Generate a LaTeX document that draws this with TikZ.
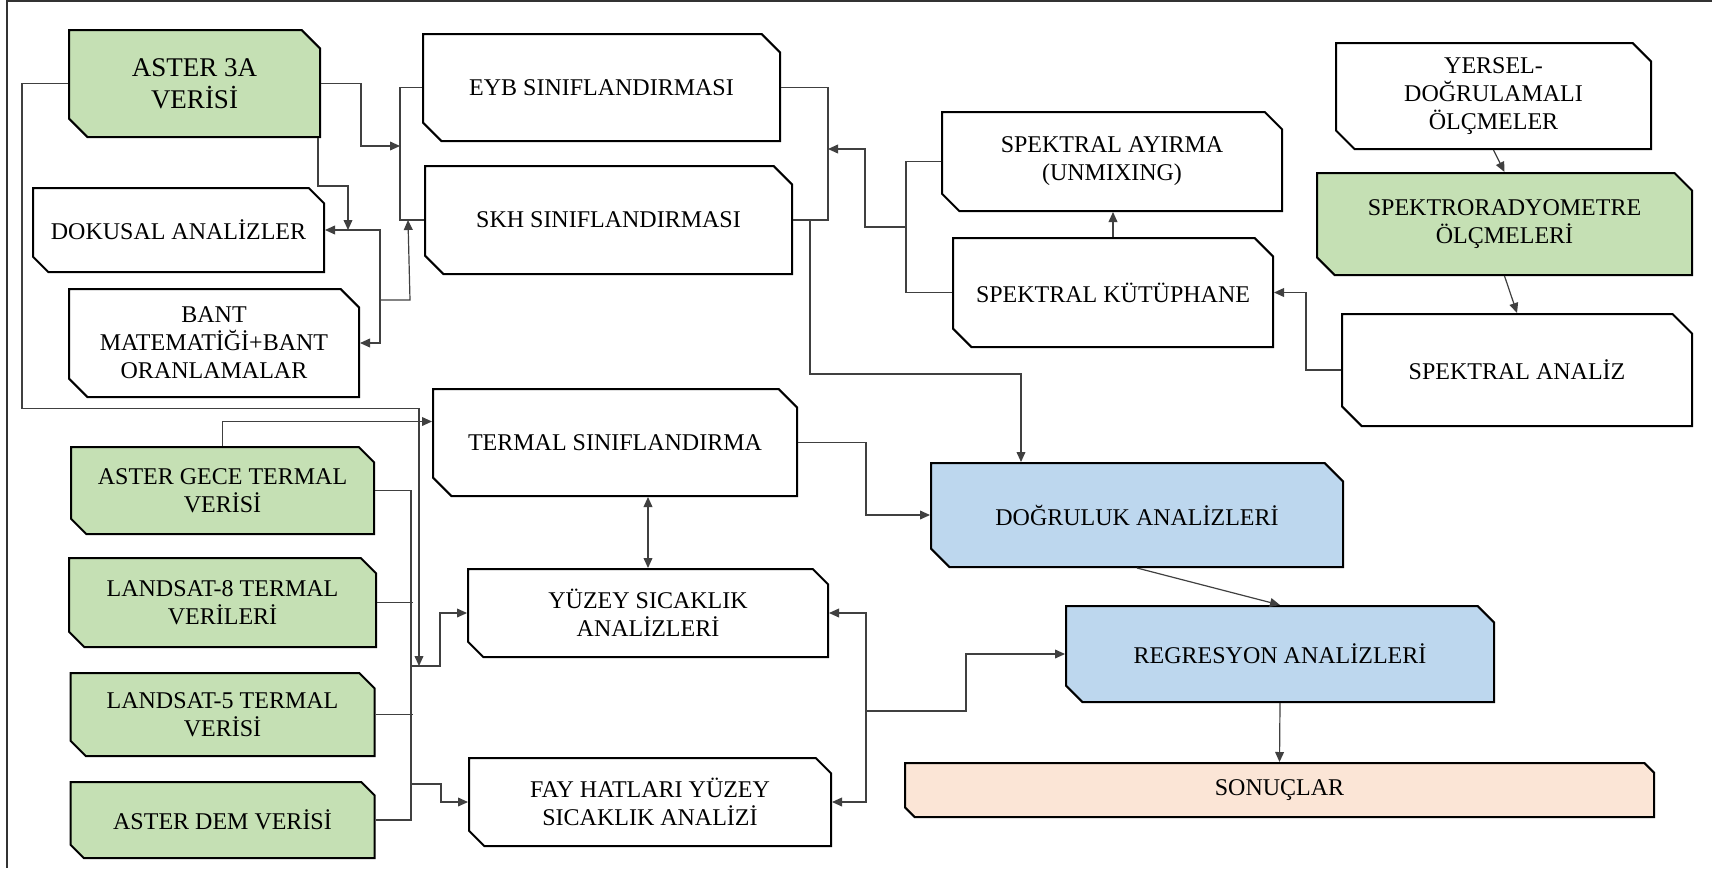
\documentclass[tikz,border=0pt]{standalone}
\usepackage{fontspec}
\setmainfont{Liberation Serif}
\usetikzlibrary{positioning,arrows.meta,shapes.misc,calc}

\definecolor{datagreen}{HTML}{C5E0B4}
\definecolor{resblue}{HTML}{BDD7EE}
\definecolor{outpeach}{HTML}{FBE5D6}

\begin{document}
\begin{tikzpicture}[
    x=0.5pt, y=-0.5pt,
    font=\fontsize{12}{14}\selectfont,
    >={Triangle[length=5pt,width=4.4pt]},
    box/.style={
        chamfered rectangle,
        chamfered rectangle corners={north east,south west},
        chamfered rectangle sep=4.6pt,
        draw=black,
        fill=white,
        line width=1pt,
        align=center,
        inner sep=2pt
    },
    databox/.style={box, fill=datagreen},
    resbox/.style={box, fill=resblue},
    outbox/.style={box, fill=outpeach},
    dims/.style 2 args={minimum width=#1*0.5pt, minimum height=#2*0.5pt},
    snip/.style={chamfered rectangle sep=#1},
    conn/.style={draw=black!75, line width=0.6pt}
]
\useasboundingbox (0,0) rectangle (1712,868);

% Page frame
\draw[black!80, line width=0.6pt] (1712,1) -- (7,1) -- (7,868);

% ASTER 3A branch
\node[databox, dims={251}{107}, font=\fontsize{13.5}{16}\selectfont] (aster3a) at (194.5,83.5) {ASTER 3A\\VERİSİ};
\node[box, dims={291}{84}, snip=3.8pt] (dokusal) at (178.5,230) {DOKUSAL ANALİZLER};
\node[box, dims={290}{108}] (bant) at (214,343) {BANT\\MATEMATİĞİ+BANT\\ORANLAMALAR};

% Classifications
\node[box, dims={357}{107}] (eyb) at (601.5,87.5) {EYB SINIFLANDIRMASI};
\node[box, dims={367}{108}] (skh) at (608.5,220) {SKH SINIFLANDIRMASI};
\node[box, dims={364}{107}] (termal) at (615,442.5) {TERMAL SINIFLANDIRMA};
\node[box, dims={360}{88}, snip=3.8pt] (yuzey) at (648,613) {YÜZEY SICAKLIK\\ANALİZLERİ};
\node[box, dims={362}{88}, snip=3.8pt] (fay) at (650,802) {FAY HATLARI YÜZEY\\SICAKLIK ANALİZİ};

% Thermal data
\node[databox, dims={303}{87}, snip=3.8pt] (gece) at (222.5,490.5) {ASTER GECE TERMAL\\VERİSİ};
\node[databox, dims={307}{89}, snip=3.8pt, below=11pt of gece] (ls8) {LANDSAT-8 TERMAL\\VERİLERİ};
\node[databox, dims={304}{83}, snip=3.8pt, below=12pt of ls8] (ls5) {LANDSAT-5 TERMAL\\VERİSİ};
\node[databox, dims={304}{76}, snip=3.3pt, below=12pt of ls5] (dem) {ASTER DEM VERİSİ};

% Spectral branch
\node[box, dims={340}{99}, snip=4.3pt] (ayirma) at (1112,161.5) {SPEKTRAL AYIRMA\\(UNMIXING)};
\node[box, dims={320}{109}] (kutup) at (1113,292.5) {SPEKTRAL KÜTÜPHANE};
\node[box, dims={315}{106}] (yersel) at (1493.5,96) {YERSEL-\\DOĞRULAMALI\\ÖLÇMELER};
\node[databox, dims={375}{102}, snip=4.4pt] (spektro) at (1504.5,224) {SPEKTRORADYOMETRE\\ÖLÇMELERİ};
\node[box, dims={350}{112}, snip=4.9pt] (spanaliz) at (1517,370) {SPEKTRAL ANALİZ};

% Results
\node[resbox, dims={412}{104}] (dogruluk) at (1137,515) {DOĞRULUK ANALİZLERİ};
\node[resbox, dims={428}{96}, snip=4.1pt] (regresyon) at (1280,654) {REGRESYON ANALİZLERİ};
\node[outbox, dims={749}{54}, snip=2.4pt] (sonuclar) at (1279.5,790) {SONUÇLAR};

\coordinate (tjoin) at ($(gece.east)+(44,175.5)$);

% Connections: left part
\draw[conn, ->] (aster3a.west) -- ++(-46,0) -- ++(0,325) -| (tjoin);
\draw[conn, ->] (aster3a.east) -- ++(40,0) |- ($(eyb.west)+(-22,58.5)$);
\draw[conn, ->] ($(aster3a.south)+(123.5,0)$) -- ++(0,48) -| ($(dokusal.east)+(23,0)$);
\draw[conn] (eyb.west) -- ++(-22,0) |- (skh.west);
\draw[conn, <->] (dokusal.east) -- ++(55,0) |- (bant.east);
\draw[conn, ->] ($(dokusal.east)+(55,70)$) -- ++(30,0) -- ($(skh.west)+(-16,0)$);
\draw[conn] (eyb.east) -- ++(47,0) |- (skh.east);
\draw[conn, ->] ($(skh.east)+(17,0)$) -- ++(0,154) -| ($(dogruluk.north)+(-116,0)$);

% Connections: spectral part
\draw[conn] (ayirma.west) -- ++(-35,0) |- (kutup.west);
\draw[conn, ->] ($(ayirma.west)+(-35,65.5)$) -- ++(-41,0) |- ($(eyb.east)+(47,61.5)$);
\draw[conn, ->] (kutup.north) -- (kutup.north |- ayirma.south);
\draw[conn, ->] (yersel.south) -- (spektro.north);
\draw[conn, ->] (spektro.south) -- (spanaliz.north);
\draw[conn, ->] (spanaliz.west) -- ++(-35,0) |- (kutup.east);

% Connections: thermal part
\draw[conn, ->] (gece.north) |- ($(termal.west)+(0,-21)$);
\draw[conn] (gece.east) -- ++(36,0) |- (dem.east);
\draw[conn] (ls8.east) -- ++(36,0);
\draw[conn] (ls5.east) -- ++(37,0);
\draw[conn, ->] ($(gece.east)+(36,175.5)$) -- ++(29,0) |- (yuzey.west);
\draw[conn, ->] ($(gece.east)+(36,293.5)$) -- ++(30,0) |- (fay.west);
\draw[conn, <->] (yuzey.north) -- (yuzey.north |- termal.south);
\draw[conn, ->] (termal.east) -- ++(68,0) |- (dogruluk.west);
\draw[conn, <->] (yuzey.east) -- ++(37,0) |- (fay.east);
\draw[conn, ->] ($(yuzey.east)+(37,98)$) -- ++(100,0) |- (regresyon.west);

% Results chain
\draw[conn, ->] (dogruluk.south) -- (regresyon.north);
\draw[conn, ->] (regresyon.south) -- (sonuclar.north);

\end{tikzpicture}
\end{document}
